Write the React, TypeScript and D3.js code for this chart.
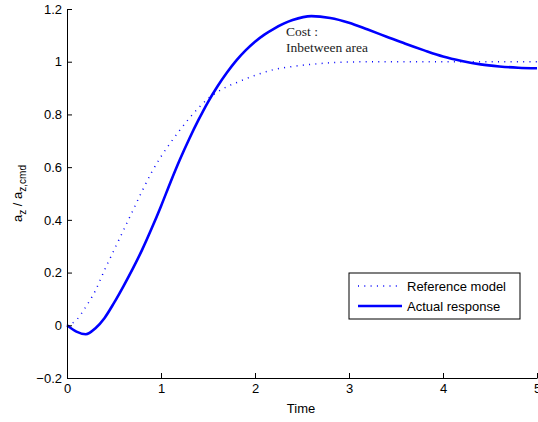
import React, { useRef, useEffect } from 'react';
import { select, axisBottom, axisLeft, scaleLinear, line, curveMonotoneX } from 'd3';

// time samples (s)
const refTime = [0, 0.1, 0.2, 0.3, 0.4, 0.5, 0.6, 0.7, 0.8, 0.9, 1.0, 1.1, 1.2, 1.3, 1.4, 1.5, 1.6, 1.7, 1.8, 1.9, 2.0, 2.2, 2.4, 2.6, 2.8, 3.0, 3.5, 4.0, 4.5, 5.0];
const refValues = [0, 0.02, 0.07, 0.13, 0.21, 0.285, 0.36, 0.435, 0.51, 0.58, 0.64, 0.692, 0.74, 0.785, 0.825, 0.86, 0.885, 0.905, 0.92, 0.935, 0.948, 0.97, 0.982, 0.99, 0.996, 0.999, 1.0, 1.0, 1.0, 1.0];

const actTime = [0, 0.1, 0.2, 0.3, 0.4, 0.5, 0.6, 0.7, 0.8, 0.9, 1.0, 1.1, 1.2, 1.3, 1.4, 1.5, 1.6, 1.7, 1.8, 1.9, 2.0, 2.1, 2.2, 2.4, 2.6, 2.8, 3.0, 3.2, 3.4, 3.6, 3.8, 4.0, 4.2, 4.4, 4.6, 4.8, 5.0];
const actValues = [0, -0.024, -0.034, -0.012, 0.028, 0.085, 0.148, 0.215, 0.287, 0.367, 0.452, 0.542, 0.628, 0.707, 0.78, 0.847, 0.906, 0.958, 1.004, 1.043, 1.076, 1.103, 1.125, 1.158, 1.173, 1.166, 1.148, 1.122, 1.095, 1.068, 1.043, 1.02, 1.003, 0.99, 0.982, 0.977, 0.975];

const xTicks = [0, 1, 2, 3, 4, 5];
const yTicks = [-0.2, 0, 0.2, 0.4, 0.6, 0.8, 1, 1.2];
const legendLabels = ['Reference model', 'Actual response'];

const W = 538, H = 422;
const margin = { left: 67, right: 1, top: 9, bottom: 44 };

function App() {
  const svgRef = useRef<SVGSVGElement>(null);

  const x = scaleLinear().domain([0, 5]).range([margin.left, W - margin.right]);
  const y = scaleLinear().domain([-0.2, 1.2]).range([H - margin.bottom, margin.top]);

  const refLine = line<number>()
    .x((d, i) => x(refTime[i]))
    .y(d => y(d))
    .curve(curveMonotoneX);
  const actLine = line<number>()
    .x((d, i) => x(actTime[i]))
    .y(d => y(d))
    .curve(curveMonotoneX);

  useEffect(() => {
    const svg = select(svgRef.current);
    const fmt = (d: any) => String(d).replace('-', '\u2212');

    const xAxis = axisBottom(x).tickValues(xTicks).tickSizeInner(-5).tickSizeOuter(0).tickPadding(6).tickFormat(fmt);
    svg.select<SVGGElement>('.x-axis')
      .attr('transform', `translate(0,${H - margin.bottom})`)
      .call(xAxis);

    const yAxis = axisLeft(y).tickValues(yTicks).tickSizeInner(-5).tickSizeOuter(0).tickPadding(5).tickFormat(fmt);
    svg.select<SVGGElement>('.y-axis')
      .attr('transform', `translate(${margin.left},0)`)
      .call(yAxis);

    svg.selectAll('.x-axis, .y-axis')
      .attr('font-family', 'Liberation Sans, Arial, sans-serif')
      .attr('font-size', 13);
    svg.selectAll('.x-axis text, .y-axis text').attr('fill', '#000');
    svg.selectAll('.x-axis path, .y-axis path, .x-axis line, .y-axis line').attr('stroke', '#000');
  }, []);

  const lx = 349, ly = 273;
  return (
    <svg ref={svgRef} width={W} height={H} style={{ position: 'absolute', left: 0, top: 0, background: '#fff' }}>
      <path d={refLine(refValues) || ''} fill="none" stroke="#0000ff" strokeWidth={1.5} strokeDasharray="1,5.3" />
      <path d={actLine(actValues) || ''} fill="none" stroke="#0000ff" strokeWidth={2.6} strokeLinejoin="round" />
      <g className="x-axis" />
      <g className="y-axis" />

      <text x={301} y={413} textAnchor="middle" fontFamily="Liberation Sans, Arial, sans-serif" fontSize={13}>Time</text>
      <text transform={`translate(22,${(H - margin.bottom + margin.top) / 2}) rotate(-90)`} textAnchor="middle"
        fontFamily="Liberation Sans, Arial, sans-serif" fontSize={13}>
        a<tspan dy={4} fontSize={10}>z</tspan><tspan dy={-4}> / a</tspan><tspan dy={4} fontSize={10}>z,cmd</tspan>
      </text>

      <text fontFamily="Liberation Serif, Times New Roman, serif" fontSize={13.5} fill="#222">
        <tspan x={286} y={36}>Cost :</tspan>
        <tspan x={286} y={51.5}>Inbetween area</tspan>
      </text>

      <g fontFamily="Liberation Sans, Arial, sans-serif" fontSize={13}>
        <rect x={lx} y={ly} width={171} height={46} fill="#fff" stroke="#000" strokeWidth={1} />
        <line x1={358} x2={402} y1={286} y2={286} stroke="#0000ff" strokeWidth={1.5} strokeDasharray="1,5.3" />
        <line x1={358} x2={402} y1={306} y2={306} stroke="#0000ff" strokeWidth={2.6} />
        <text x={407} y={290.5}>{legendLabels[0]}</text>
        <text x={407} y={310.5}>{legendLabels[1]}</text>
      </g>
    </svg>
  );
}

export default App;
